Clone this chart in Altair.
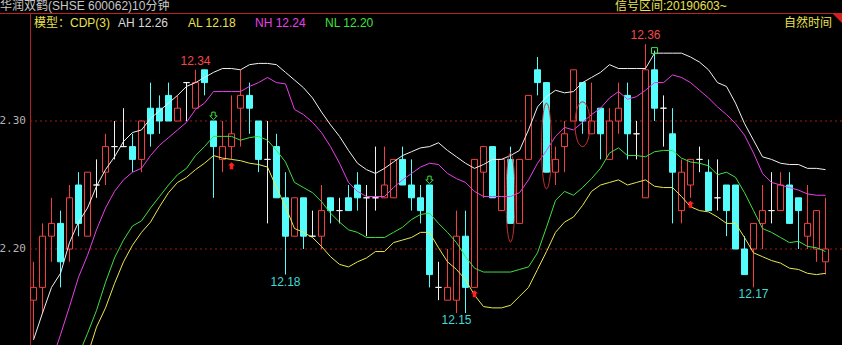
import altair as alt
import pandas as pd

# ---------------- data ----------------
OPEN = [12.16,12.17,12.21,12.22,12.20,12.25,12.21,12.25,12.26,12.28,
        12.28,12.28,12.27,12.31,12.31,12.32,12.30,12.33,12.31,12.34,
        12.30,12.27,12.28,12.31,12.32,12.30,12.27,12.28,12.24,12.21,
        12.24,12.21,12.21,12.24,12.23,12.24,12.25,12.24,12.24,12.24,
        12.24,12.27,12.25,12.24,12.25,12.17,12.16,12.16,12.21,12.17,
        12.26,12.28,12.23,12.27,12.22,12.27,12.34,12.33,12.26,12.28,
        12.30,12.33,12.29,12.31,12.27,12.30,12.32,12.29,12.24,12.34,
        12.31,12.29,12.23,12.25,12.27,12.26,12.24,12.25,12.25,12.20,
        12.20,12.22,12.23,12.23,12.25,12.24,12.21,12.20,12.19]
HIGH = [12.19,12.22,12.24,12.23,12.25,12.26,12.26,12.27,12.29,12.30,
        12.31,12.29,12.30,12.33,12.32,12.33,12.32,12.33,12.34,12.34,
        12.30,12.30,12.32,12.34,12.33,12.30,12.30,12.29,12.26,12.24,
        12.24,12.23,12.25,12.24,12.24,12.25,12.26,12.25,12.28,12.28,
        12.27,12.28,12.27,12.25,12.25,12.19,12.20,12.23,12.23,12.27,
        12.28,12.28,12.27,12.28,12.27,12.32,12.35,12.33,12.28,12.30,
        12.34,12.33,12.33,12.31,12.31,12.33,12.33,12.30,12.36,12.355,
        12.32,12.31,12.27,12.27,12.28,12.27,12.27,12.25,12.25,12.21,
        12.22,12.25,12.26,12.26,12.26,12.24,12.25,12.23,12.24]
LOW = [12.13,12.15,12.19,12.17,12.19,12.21,12.21,12.24,12.25,12.27,
       12.28,12.26,12.26,12.28,12.29,12.30,12.30,12.30,12.31,12.32,
       12.24,12.26,12.27,12.28,12.29,12.26,12.22,12.24,12.18,12.21,
       12.20,12.21,12.20,12.22,12.22,12.23,12.23,12.21,12.23,12.24,
       12.24,12.25,12.23,12.22,12.17,12.16,12.16,12.15,12.15,12.17,
       12.24,12.24,12.23,12.22,12.22,12.27,12.32,12.26,12.25,12.26,
       12.30,12.29,12.29,12.27,12.27,12.29,12.27,12.27,12.24,12.30,
       12.28,12.22,12.22,12.24,12.26,12.23,12.23,12.21,12.20,12.18,
       12.17,12.20,12.22,12.23,12.22,12.20,12.20,12.19,12.18]
CLOSE = [12.17,12.21,12.22,12.19,12.24,12.22,12.26,12.25,12.28,12.28,
         12.28,12.27,12.30,12.29,12.30,12.30,12.31,12.33,12.33,12.33,
         12.28,12.28,12.29,12.32,12.31,12.27,12.27,12.24,12.21,12.24,
         12.21,12.21,12.23,12.23,12.23,12.23,12.24,12.24,12.24,12.25,
         12.27,12.25,12.24,12.23,12.18,12.17,12.17,12.21,12.17,12.27,
         12.28,12.24,12.27,12.22,12.27,12.32,12.33,12.26,12.27,12.29,
         12.34,12.30,12.30,12.29,12.30,12.31,12.29,12.29,12.34,12.31,
         12.31,12.26,12.26,12.27,12.27,12.23,12.24,12.23,12.20,12.18,
         12.22,12.23,12.23,12.25,12.22,12.23,12.22,12.23,12.20]

AH = [12.129,12.150,12.170,12.181,12.205,12.221,12.232,12.249,12.262,12.272,
      12.284,12.291,12.293,12.302,12.308,12.314,12.320,12.327,12.330,12.334,
      12.338,12.341,12.341,12.340,12.344,12.345,12.345,12.344,12.338,12.332,
      12.326,12.318,12.307,12.297,12.288,12.277,12.267,12.262,12.259,12.263,
      12.268,12.273,12.276,12.279,12.280,12.283,12.277,12.272,12.267,12.263,
      12.266,12.270,12.270,12.273,12.277,12.293,12.311,12.319,12.324,12.322,
      12.323,12.330,12.334,12.338,12.344,12.341,12.341,12.341,12.341,12.353,
      12.353,12.353,12.353,12.350,12.346,12.340,12.330,12.327,12.314,12.298,
      12.285,12.272,12.270,12.267,12.266,12.266,12.263,12.263,12.262]
NH = [None,None,12.112,12.133,12.155,12.178,12.195,12.215,12.232,12.245,
      12.254,12.260,12.263,12.273,12.281,12.287,12.293,12.299,12.309,12.314,
      12.323,12.323,12.323,12.323,12.327,12.330,12.334,12.330,12.329,12.309,
      12.305,12.299,12.291,12.280,12.267,12.252,12.245,12.241,12.241,12.241,
      12.248,12.254,12.259,12.264,12.267,12.266,12.259,12.255,12.252,12.245,
      12.241,12.241,12.241,12.241,12.244,12.254,12.267,12.277,12.288,12.295,
      12.293,12.299,12.305,12.310,12.318,12.323,12.317,12.319,12.324,12.330,
      12.330,12.336,12.334,12.330,12.324,12.318,12.311,12.305,12.298,12.289,
      12.275,12.259,12.252,12.250,12.248,12.246,12.243,12.242,12.242]
NL = [None,None,None,None,None,12.117,12.134,12.152,12.174,12.193,
      12.207,12.218,12.222,12.232,12.241,12.250,12.258,12.263,12.273,12.280,
      12.288,12.288,12.288,12.285,12.287,12.288,12.285,12.277,12.268,12.252,
      12.248,12.244,12.237,12.228,12.221,12.215,12.213,12.209,12.209,12.209,
      12.213,12.217,12.223,12.227,12.228,12.220,12.213,12.205,12.194,12.185,
      12.182,12.182,12.182,12.182,12.184,12.186,12.197,12.217,12.238,12.245,
      12.242,12.248,12.255,12.263,12.275,12.279,12.273,12.273,12.272,12.276,
      12.277,12.277,12.271,12.268,12.267,12.265,12.258,12.260,12.256,12.244,
      12.230,12.216,12.213,12.209,12.205,12.206,12.202,12.201,12.198]
AL = [None,None,None,None,None,None,12.117,12.139,12.154,12.173,
      12.190,12.203,12.213,12.221,12.233,12.244,12.252,12.256,12.262,12.267,
      12.273,12.271,12.270,12.269,12.267,12.266,12.264,12.248,12.233,12.216,
      12.213,12.209,12.202,12.194,12.188,12.186,12.190,12.193,12.198,12.198,
      12.205,12.207,12.209,12.213,12.213,12.201,12.190,12.184,12.176,12.164,
      12.155,12.154,12.154,12.156,12.163,12.170,12.184,12.198,12.213,12.221,
      12.225,12.234,12.245,12.250,12.252,12.254,12.250,12.252,12.254,12.249,
      12.248,12.248,12.241,12.233,12.230,12.229,12.225,12.220,12.220,12.209,
      12.197,12.194,12.191,12.189,12.185,12.184,12.181,12.180,12.181]

GRID_LEVELS = [12.20, 12.30]
HIGH_LABEL_IDX = [18, 68]
LOW_LABEL_IDX = [28, 47, 80]
BUY_MARK_IDX = [22, 49, 73]
BUY_MARK_PRICE = [12.265, 12.165, 12.235]
SELL_MARK_IDX = [20, 44]
SELL_MARK_PRICE = [12.304, 12.254]
BOX_MARK_IDX = [69]
BOX_MARK_PRICE = [12.355]
ELLIPSE_IDX = [53, 57, 61]
ELLIPSE_TOP = [12.275, 12.314, 12.315]
ELLIPSE_BOTTOM = [12.2055, 12.247, 12.280]

TITLE = "华润双鹤(SHSE 600062)10分钟"
SIGNAL = "信号区间:20190603~"
MODEL = "模型：CDP(3)"
MODE = "自然时间"

# ---------------- styles ----------------
W, H = 812, 332
X_DOMAIN = [-0.3889, 89.8333]
Y_DOMAIN = [12.125, 12.384375]
PX_PER_PRICE = H / (Y_DOMAIN[1] - Y_DOMAIN[0])
RED = "#f04040"
CYAN = "#54fcfc"
WHITE = "#f0f0f0"
LINE_COLORS = {"AH": "#f0f0f0", "NH": "#e840e8", "NL": "#40e040", "AL": "#e8e850"}
YELLOW_TXT = "#e8e050"
FONT = "Liberation Sans, Noto Sans CJK SC"
ELLIPSE_WIDTH_PX = [9, 10, 15]

xs = alt.Scale(domain=X_DOMAIN, nice=False, zero=False)
ys = alt.Scale(domain=Y_DOMAIN, nice=False, zero=False)

def X(f):
    return alt.X(f, scale=xs, axis=None)

def Y(f):
    return alt.Y(f, scale=ys, axis=None)

# ---------------- tables ----------------
n = len(OPEN)
kinds = []
for o, c in zip(OPEN, CLOSE):
    kinds.append("up" if c > o else ("down" if c < o else "doji"))
candles = pd.DataFrame({"i": list(range(n)), "open": OPEN, "high": HIGH,
                        "low": LOW, "close": CLOSE, "kind": kinds})
candles["x0"] = candles["i"] - 1 / 3
candles["x1"] = candles["i"] + 1 / 3

rows = []
for name, arr in [("AH", AH), ("NH", NH), ("NL", NL), ("AL", AL)]:
    for i, v in enumerate(arr):
        if v is not None:
            rows.append({"i": i, "v": v, "s": name})
lines_df = pd.DataFrame(rows)

kind_dom = ["up", "down", "doji"]
stroke_scale = alt.Scale(domain=kind_dom, range=[RED, CYAN, WHITE])
fill_scale = alt.Scale(domain=kind_dom, range=["#000000", CYAN, WHITE])

layers = []

# grid dashed lines
grid = pd.DataFrame({"level": GRID_LEVELS})
layers.append(alt.Chart(grid).mark_rule(color="#9a1a1a", strokeDash=[2, 3], strokeWidth=1).encode(
    y=Y("level:Q"), x=alt.value(0), x2=alt.value(W)))
# y labels (leading digit falls off the left edge, as in the reference)
grid["lab"] = [f"{v:.2f}" for v in GRID_LEVELS]
layers.append(alt.Chart(grid).mark_text(align="right", baseline="middle", font="DejaVu Sans Mono",
                                        fontSize=11, color="#b4b4b4").encode(
    y=Y("level:Q"), x=alt.value(-4), text="lab:N"))

# frame lines
layers.append(alt.Chart(pd.DataFrame({"a": [0]})).mark_rule(color="#c02020", strokeWidth=1).encode(
    x=alt.value(-30), x2=alt.value(W), y=alt.value(0.5)))
layers.append(alt.Chart(pd.DataFrame({"a": [0]})).mark_rule(color="#b02020", strokeWidth=1).encode(
    x=alt.value(0.5), y=alt.value(0), y2=alt.value(H)))

# wicks
layers.append(alt.Chart(candles).mark_rule(strokeWidth=1).encode(
    x=X("i:Q"), y=Y("low:Q"), y2="high:Q",
    stroke=alt.Stroke("kind:N", scale=stroke_scale, legend=None)))
# bodies
layers.append(alt.Chart(candles).mark_rect(strokeWidth=1).encode(
    x=X("x0:Q"), x2="x1:Q", y=Y("open:Q"), y2="close:Q",
    fill=alt.Fill("kind:N", scale=fill_scale, legend=None),
    stroke=alt.Stroke("kind:N", scale=stroke_scale, legend=None)))

# indicator lines
layers.append(alt.Chart(lines_df).mark_line(strokeWidth=1, clip=True).encode(
    x=X("i:Q"), y=Y("v:Q"),
    color=alt.Color("s:N", scale=alt.Scale(domain=list(LINE_COLORS.keys()),
                                           range=list(LINE_COLORS.values())), legend=None)))

# ellipses
for k in range(len(ELLIPSE_IDX)):
    h_px = (ELLIPSE_TOP[k] - ELLIPSE_BOTTOM[k]) * PX_PER_PRICE
    a = ELLIPSE_WIDTH_PX[k] / h_px
    path = f"M0,-1 A{a:.4f},1 0 1,1 0,1 A{a:.4f},1 0 1,1 0,-1 Z"
    edf = pd.DataFrame({"i": [ELLIPSE_IDX[k]], "mid": [(ELLIPSE_TOP[k] + ELLIPSE_BOTTOM[k]) / 2]})
    layers.append(alt.Chart(edf).mark_point(shape=path, size=h_px ** 2, filled=False,
                                            stroke="#c83030", strokeWidth=1, opacity=1).encode(
        x=X("i:Q"), y=Y("mid:Q")))

# markers
buy = pd.DataFrame({"i": BUY_MARK_IDX, "p": BUY_MARK_PRICE})
layers.append(alt.Chart(buy).mark_point(
    shape="M0,-1 L1,-0.1 L0.5,-0.1 L0.5,1 L-0.5,1 L-0.5,-0.1 L-1,-0.1 Z",
    size=49, filled=True, fill="#ff2020", opacity=1).encode(x=X("i:Q"), y=Y("p:Q")))
sell = pd.DataFrame({"i": SELL_MARK_IDX, "p": SELL_MARK_PRICE})
layers.append(alt.Chart(sell).mark_point(
    shape="M-0.45,-1 L0.45,-1 L0.45,0 L1,0 L0,1 L-1,0 L-0.45,0 Z",
    size=56, filled=False, stroke="#40e040", strokeWidth=1, opacity=1).encode(x=X("i:Q"), y=Y("p:Q")))
box = pd.DataFrame({"i": BOX_MARK_IDX, "p": BOX_MARK_PRICE})
layers.append(alt.Chart(box).mark_point(shape="square", size=36, filled=False, stroke="#40e040",
                                        strokeWidth=1, opacity=1).encode(x=X("i:Q"), y=Y("p:Q")))

# high / low labels
hi = pd.DataFrame({"i": HIGH_LABEL_IDX, "p": [HIGH[k] for k in HIGH_LABEL_IDX]})
hi["t"] = [f"{v:.2f}" for v in hi["p"]]
layers.append(alt.Chart(hi).mark_text(baseline="bottom", dy=-2, fontSize=12, font=FONT,
                                      fill="#f04848").encode(x=X("i:Q"), y=Y("p:Q"), text="t:N"))
lo = pd.DataFrame({"i": LOW_LABEL_IDX, "p": [LOW[k] for k in LOW_LABEL_IDX]})
lo["t"] = [f"{v:.2f}" for v in lo["p"]]
layers.append(alt.Chart(lo).mark_text(baseline="top", dy=2, fontSize=12, font=FONT,
                                      fill="#40d8d8").encode(x=X("i:Q"), y=Y("p:Q"), text="t:N"))

# header texts
def txt(s, x, y, color, align="left"):
    return alt.Chart(pd.DataFrame({"t": [s]})).mark_text(
        align=align, baseline="middle", fontSize=12, font=FONT, fill=color).encode(
        text="t:N", x=alt.value(x), y=alt.value(y))

layers.append(txt(TITLE, -30, -7, "#c8c8c8"))
layers.append(txt(SIGNAL, 585, -7, YELLOW_TXT))
layers.append(txt(MODEL, 4, 10, YELLOW_TXT))
layers.append(txt(f"AH {AH[-1]:.2f}", 88, 10, "#d8d8d8"))
layers.append(txt(f"AL {AL[-1]:.2f}", 158, 10, YELLOW_TXT))
layers.append(txt(f"NH {NH[-1]:.2f}", 225, 10, "#e840e8"))
layers.append(txt(f"NL {NL[-1]:.2f}", 295, 10, "#40e040"))
layers.append(txt(MODE, 802, 10, YELLOW_TXT, align="right"))

# corner triangle
layers.append(alt.Chart(pd.DataFrame({"a": [0]})).mark_point(
    shape="M-1,-1 L1,-1 L1,1 Z", size=100, filled=True, fill="#d02020", opacity=1).encode(
    x=alt.value(807), y=alt.value(5)))

chart = alt.layer(*layers).properties(
    width=W, height=H,
    padding={"left": 30, "top": 13, "right": 0, "bottom": 0},
    autosize=alt.AutoSizeParams(type="none"),
    background="#000000",
).configure_view(stroke=None)

chart.save("out.html", embed_options={"renderer": "svg", "actions": False})
